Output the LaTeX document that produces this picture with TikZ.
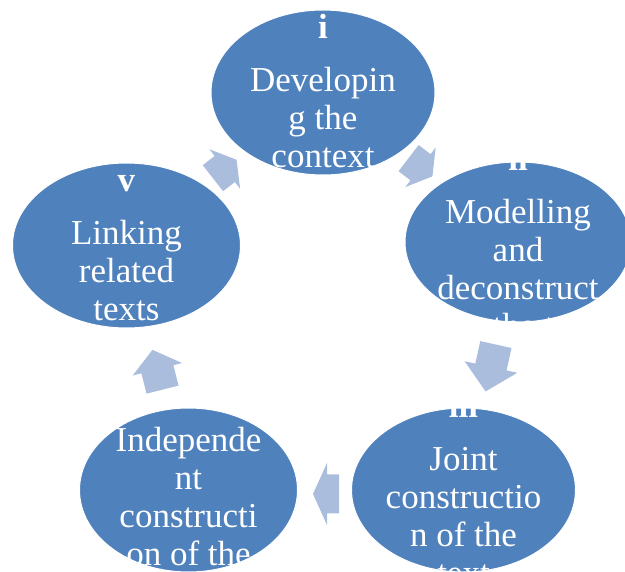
\documentclass[tikz,border=0pt]{standalone}
\usepackage{fontspec}
\setmainfont{Liberation Serif}
\usetikzlibrary{shapes.geometric,calc}
\definecolor{nodeblue}{RGB}{79,129,189}
\definecolor{arrowblue}{RGB}{170,189,220}
\tikzset{
  cyc/.style={ellipse, fill=nodeblue, draw=white, line width=1pt, inner sep=0pt},
  txt/.style={text=white, anchor=base, inner sep=0pt, font=\fontsize{35}{38}\selectfont},
  pics/blockarrow/.style n args={4}{code={
    \fill[arrowblue] (-#1/2,-#2/2) -- (#1/2-#4,-#2/2) -- (#1/2-#4,-#3/2) -- (#1/2,0)
      -- (#1/2-#4,#3/2) -- (#1/2-#4,#2/2) -- (-#1/2,#2/2) -- cycle;
  }}
}
\begin{document}
\begin{tikzpicture}[x=1pt,y=-1pt]
\useasboundingbox (0,0) rectangle (625,572);
% nodes
\node[cyc, minimum width=224pt, minimum height=165pt] (i)   at (323,92.5) {};
\node[cyc, minimum width=226pt, minimum height=160pt] (ii)  at (518,242) {};
\node[cyc, minimum width=224pt, minimum height=164pt] (iii) at (463.5,490) {};
\node[cyc, minimum width=218pt, minimum height=164pt] (iv)  at (188.5,490) {};
\node[cyc, minimum width=228pt, minimum height=165pt] (v)   at (126.5,245.5) {};
% texts, clipped to their ellipses
\begin{scope}
\clip (i.center) ellipse [x radius=112, y radius=82.5];
\node[txt] (ti) at ($(i.center)+(0,-53.5)$) {\begin{tabular}[t]{@{}c@{}}\textbf{i}\\[15pt]Developin\\g the\\context\end{tabular}};
\end{scope}
\begin{scope}
\clip (ii.center) ellipse [x radius=113, y radius=80];
\node[txt] (tii) at ($(ii.center)+(0,-71)$) {\begin{tabular}[t]{@{}c@{}}\textbf{ii}\\[15pt]Modelling\\and\\deconstruct\\ing the text\end{tabular}};
\end{scope}
\begin{scope}
\clip (iii.center) ellipse [x radius=112, y radius=82];
\node[txt] (tiii) at ($(iii.center)+(0,-72.5)$) {\begin{tabular}[t]{@{}c@{}}\textbf{iii}\\[15pt]Joint\\constructio\\n of the\\text\end{tabular}};
\end{scope}
\begin{scope}
\clip (iv.center) ellipse [x radius=109, y radius=82];
\node[txt] (tiv) at ($(iv.center)+(0,-91.5)$) {\begin{tabular}[t]{@{}c@{}}\textbf{iv}\\[15pt]Independe\\nt\\constructi\\on of the\\text\end{tabular}};
\end{scope}
\begin{scope}
\clip (v.center) ellipse [x radius=114, y radius=82.5];
\node[txt] (tv) at ($(v.center)+(0,-54)$) {\begin{tabular}[t]{@{}c@{}}\textbf{v}\\[15pt]Linking\\related\\texts\end{tabular}};
\end{scope}
% block arrows between nodes
\path let \p1=($(ii)-(i)$), \n1={atan2(\y1,\x1)} in ($(i)!0.5!(ii)$) pic[rotate=\n1] {blockarrow={30}{33}{50}{15}};
\path let \p1=($(iii)-(ii)$), \n1={atan2(\y1,\x1)} in ($(ii)!0.5!(iii)+(0,2)$) pic[rotate=\n1] {blockarrow={48}{32}{54}{25}};
\path let \p1=($(iv)-(iii)$), \n1={atan2(\y1,\x1)} in ($(iii)!0.5!(iv)+(0,4)$) pic[rotate=\n1] {blockarrow={26}{39}{62}{14}};
\path let \p1=($(v)-(iv)$), \n1={atan2(\y1,\x1)} in ($(iv)!0.5!(v)+(0,2)$) pic[rotate=\n1] {blockarrow={41}{33}{51}{20}};
\path let \p1=($(i)-(v)$), \n1={atan2(\y1,\x1)} in ($(v)!0.5!(i)$) pic[rotate=\n1] {blockarrow={30}{33}{50}{15}};
\end{tikzpicture}
\end{document}
